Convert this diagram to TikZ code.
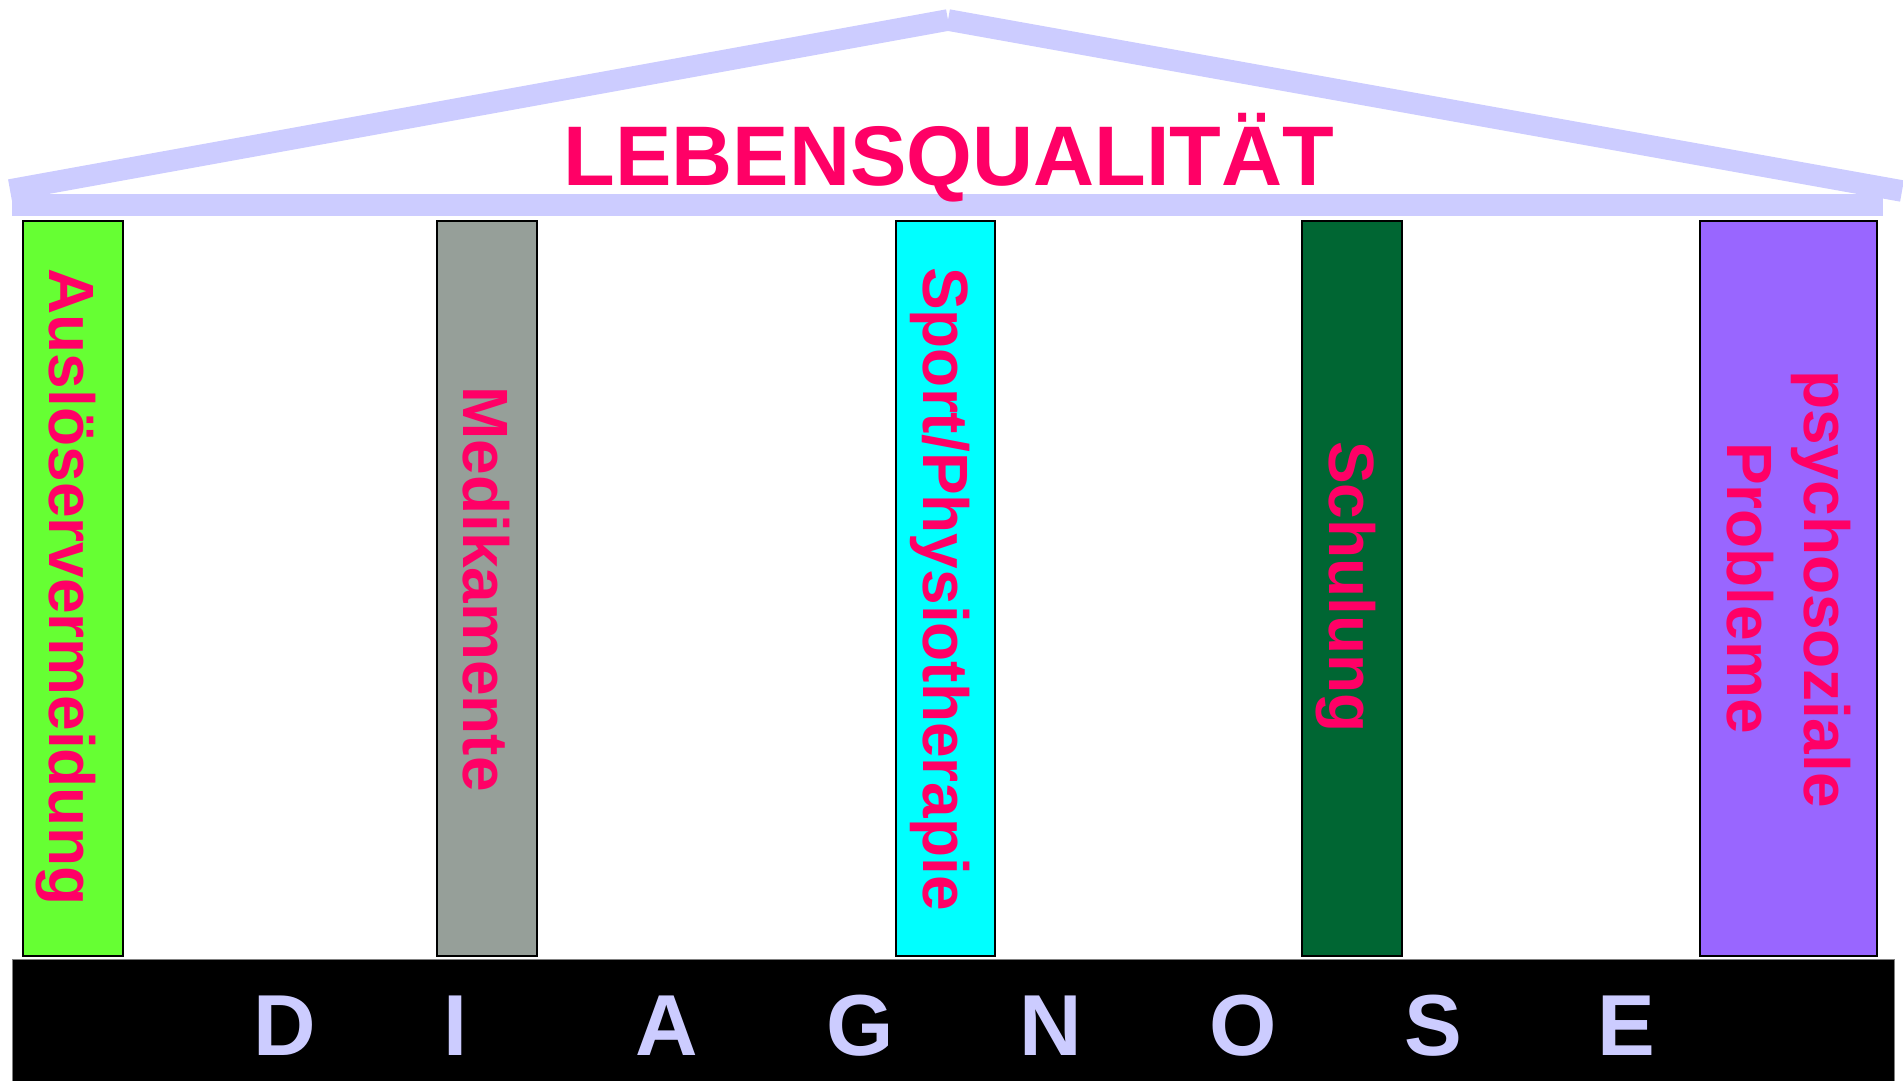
\documentclass[tikz,border=0pt]{standalone}
\usepackage{fontspec}
\setmainfont{Liberation Sans}
\definecolor{roofc}{HTML}{CCCCFF}
\definecolor{txtc}{HTML}{FF0066}
\definecolor{pgreen}{HTML}{66FF33}
\definecolor{pgray}{HTML}{969F99}
\definecolor{pcyan}{HTML}{00FFFF}
\definecolor{pdgreen}{HTML}{006633}
\definecolor{ppurple}{HTML}{9966FF}
\begin{document}
\begin{tikzpicture}[x=0.5pt,y=-0.5pt,
  roofline/.style={draw=roofc,line width=10.8pt},
  pillar/.style={draw=black,line width=1.3pt,inner sep=0pt,minimum height=367.5pt},
  pillartext/.style={rotate=-90,anchor=base,inner sep=0pt,text=txtc,font=\fontsize{32}{38}\selectfont\bfseries},
  letter/.style={anchor=base,inner sep=0pt,text=roofc,font=\fontsize{43.3}{50}\selectfont\bfseries}]
\useasboundingbox (0,0) rectangle (1903,1081);
% roof
\coordinate (rl) at (10,190);
\coordinate (apex) at (948,20);
\coordinate (rr) at (1902,191);
\draw[roofline] (rl) -- (apex);
\draw[roofline] (apex) -- (rr);
\node[fill=roofc,inner sep=0pt,minimum width=935.5pt,minimum height=11pt] (beam) at (947.5,205) {};
\node[anchor=base,inner sep=0pt,text=txtc,font=\fontsize{42.3}{50}\selectfont\bfseries] (title) at (949,186) {LEBENSQUALITÄT};
% base
\node[fill=black,draw=gray,line width=0.6pt,inner sep=0pt,minimum width=941pt,minimum height=65pt,anchor=north west] (base) at (12,959) {};
\foreach \l/\xx [count=\i from 0] in {D/285,I/456,A/667,G/860,N/1051,O/1243,S/1433,E/1626}{
  \node[letter] (d\i) at (\xx,1055) {\l};
}
% pillars
\node[pillar,fill=pgreen,minimum width=50pt] (p1) at (73,588.5) {};
\node[pillar,fill=pgray,minimum width=50pt] (p2) at (487,588.5) {};
\node[pillar,fill=pcyan,minimum width=49.5pt] (p3) at (945.5,588.5) {};
\node[pillar,fill=pdgreen,minimum width=50pt] (p4) at (1352,588.5) {};
\node[pillar,fill=ppurple,minimum width=88.5pt] (p5) at (1788.5,588.5) {};
% pillar texts
\node[pillartext] (t1) at (49,587) {Auslöservermeidung};
\node[pillartext] (t2) at (463,589) {Medikamente};
\node[pillartext] (t3) at (923,589) {Sport/Physiotherapie};
\node[pillartext] (t4) at (1329,587) {Schulung};
\node[pillartext] (t5a) at (1804,589) {psychosoziale};
\node[pillartext] (t5b) at (1727,588) {Probleme};
\end{tikzpicture}
\end{document}
